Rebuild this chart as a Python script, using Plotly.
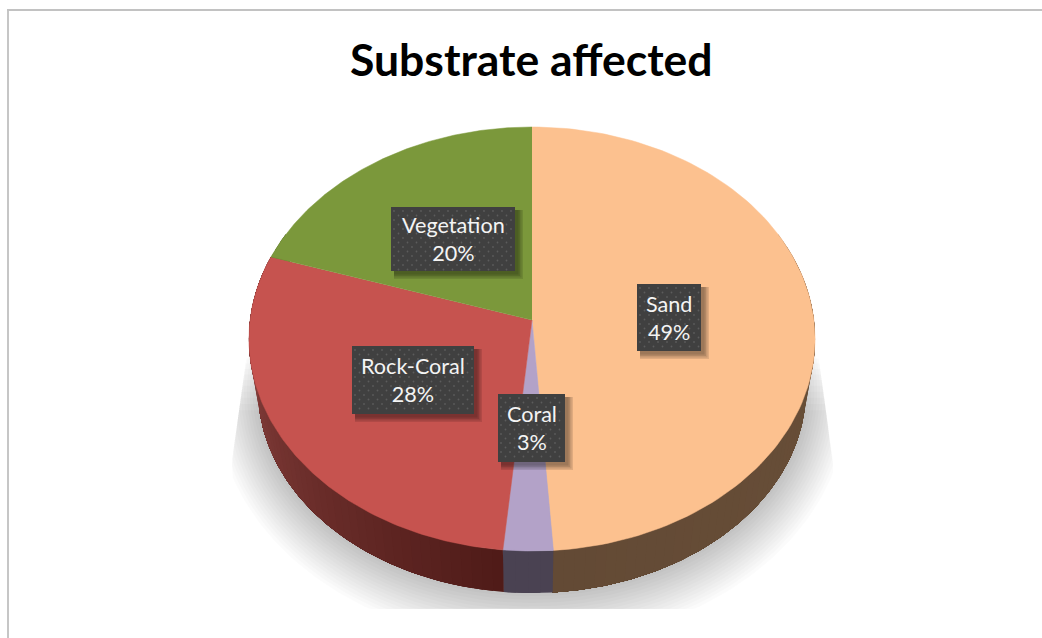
import numpy as np
import plotly.graph_objects as go

# --- data -----------------------------------------------------------------
categories = ["Sand", "Coral", "Rock-Coral", "Vegetation"]
values = [48.9, 2.6, 28.49, 20.01]
top_colors = ["#FCC18F", "#B3A2C8", "#C6534F", "#7B983B"]
side_colors_start = ["#6A5039", "#4A4252", "#4F1B18", "#4A5C25"]
side_colors_end = ["#634A35", "#4A4252", "#934845", "#4A5C25"]
title_text = "Substrate affected"

# --- layout constants -----------------------------------------------------
W, H = 1042, 638
APEX = (532.0, 320.0)
K, A, B = 0.0896, 210.3, 281.9      # perspective of the disc
RIM_SX, RIM_SY, RIM_DY = 0.968, 0.96, 51.2
LABEL_BOXES = [(637, 284, 701, 351), (498, 394, 565, 462),
               (352, 346, 474, 414), (391, 207, 515, 271)]


def disc(t):
    d = 1 + K * np.cos(t)
    return B * np.sin(t) / d, A * np.cos(t) / d


def top_xy(t):
    x, y = disc(t)
    return APEX[0] + x, APEX[1] - y


def rim_xy(t):
    x, y = disc(t)
    return APEX[0] + RIM_SX * x, APEX[1] + RIM_DY - RIM_SY * y


def hex2rgb(c):
    return np.array([int(c[i:i + 2], 16) for i in (1, 3, 5)], dtype=float)


def mix(c1, c2, f):
    r = hex2rgb(c1) * (1 - f) + hex2rgb(c2) * f
    return "rgb(%d,%d,%d)" % tuple(r.round())


def poly(x, y, fill, line=None):
    return go.Scatter(x=np.asarray(x), y=np.asarray(y), mode="lines", fill="toself",
                      fillcolor=fill, line=dict(width=0.5 if line else 0, color=line or fill),
                      hoverinfo="skip", showlegend=False)


fig = go.Figure()

# soft floor shadow, clipped like the reference
n_layers = 16
for i in range(n_layers):
    f = i / (n_layers - 1)
    e = 42 * (1 - f)
    t = np.linspace(np.pi * 0.42, np.pi * 1.58, 160)
    rx, ry = disc(t)
    x = APEX[0] + (RIM_SX * rx) * (1 + e / 272)
    y = APEX[1] + RIM_DY - RIM_SY * ry * (1 + e / 203) + e * 0.12
    y = np.minimum(y, 609)
    y_top = 318 + 90 * (1 - f)
    keep = y >= y_top
    x, y = x[keep], y[keep]
    xmin = 232 + np.maximum(460 - y, 0) * 0.14
    xmax = 833 - np.maximum(460 - y, 0) * 0.14
    x = np.clip(x, xmin, xmax)
    fig.add_trace(poly(x, y, "rgba(0,0,0,0.0155)"))

# side wall: overlapping strips painted in order so that no seams show
frac = np.cumsum([0] + values) / sum(values)
for i, cat in enumerate(categories):
    t0, t1 = 2 * np.pi * frac[i], 2 * np.pi * frac[i + 1]
    vis0, vis1 = max(t0, np.radians(65)), min(t1, np.radians(295))
    if vis1 <= vis0:
        continue
    steps = max(2, int(np.degrees(vis1 - vis0) / 2))
    edges = np.linspace(vis0, vis1, steps + 1)
    for j in range(steps):
        tt = np.linspace(edges[j], vis1, 4 + 3 * (steps - j))
        px, py = top_xy(tt)
        qx, qy = rim_xy(tt)
        col = mix(side_colors_start[i], side_colors_end[i], (j + 0.5) / steps)
        fig.add_trace(poly(np.r_[px, qx[::-1]], np.r_[py, qy[::-1]], col))

# top faces
for i, cat in enumerate(categories):
    tt = np.linspace(2 * np.pi * frac[i], 2 * np.pi * frac[i + 1], 120)
    px, py = top_xy(tt)
    fig.add_trace(poly(np.r_[APEX[0], px], np.r_[APEX[1], py], top_colors[i], top_colors[i]))

# label boxes, shadows, dotted texture
shapes = [
    dict(type="line", x0=8, x1=8, y0=9, y1=H, line=dict(color="#c6c6c6", width=2), layer="below"),
    dict(type="line", x0=7, x1=W, y0=10, y1=10, line=dict(color="#c2c2c2", width=2), layer="below"),
]
annotations = []
for (x0, y0, x1, y1), cat, v in zip(LABEL_BOXES, categories, values):
    for o in (8, 6.5, 5, 3.5):
        shapes.append(dict(type="rect", x0=x0 + 3, x1=x1 + o, y0=y0 + 3, y1=y1 + o,
                           fillcolor="rgba(0,0,0,0.11)", line=dict(width=0), layer="above"))
    shapes.append(dict(type="rect", x0=x0, x1=x1, y0=y0, y1=y1, fillcolor="#404040",
                       line=dict(width=0), layer="above"))
    annotations.append(dict(x=(x0 + x1) / 2, y=(y0 + y1) / 2, xref="x", yref="y", showarrow=False,
                            text=f"{cat}<br>{round(v)}%", align="center",
                            font=dict(family="Lato", size=21.6, color="#f4f4f4")))

annotations.append(dict(x=531, y=58, xref="x", yref="y", showarrow=False, text=f"<b>{title_text}</b>",
                        font=dict(family="Lato", size=44.5, color="#000000")))

dot_shapes = []
for (x0, y0, x1, y1) in LABEL_BOXES:
    for r, yy in enumerate(np.arange(y0 + 4, y1 - 1, 4.5)):
        for xx in np.arange(x0 + 3 + (r % 2) * 4.5, x1 - 1, 9):
            dot_shapes.append(dict(type="circle", x0=xx - 0.9, x1=xx + 0.9, y0=yy - 0.9, y1=yy + 0.9,
                                   fillcolor="#5c5c5c", line=dict(width=0), layer="above"))

fig.update_layout(
    width=W, height=H, margin=dict(l=0, r=0, t=0, b=0),
    paper_bgcolor="white", plot_bgcolor="white",
    xaxis=dict(range=[0, W], visible=False, fixedrange=True),
    yaxis=dict(range=[H, 0], visible=False, fixedrange=True),
    shapes=shapes + dot_shapes, annotations=annotations, showlegend=False,
)
fig.write_html("out.html", config=dict(displayModeBar=False),
               post_script="document.body.style.margin='0';document.body.style.overflow='hidden';")
